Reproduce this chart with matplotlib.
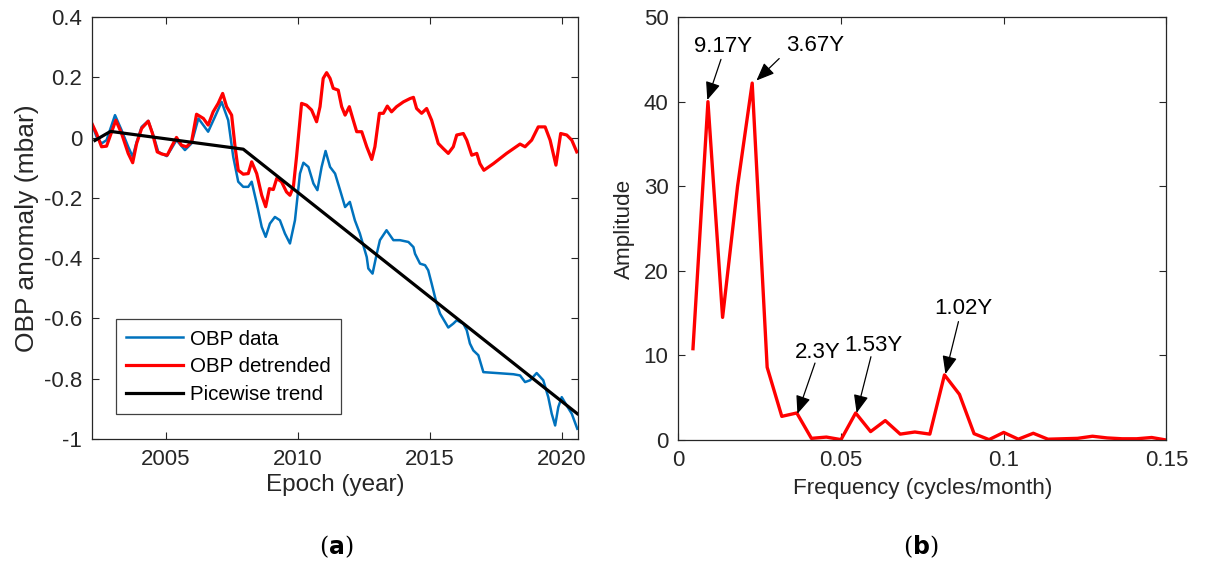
import numpy as np
import matplotlib
matplotlib.use('Agg')
import matplotlib.pyplot as plt

plt.rcParams['font.family'] = ['Liberation Sans', 'DejaVu Sans']
plt.rcParams['axes.unicode_minus'] = False

# panel (a): OBP time series (years, mbar)
yr_data = [2002.18, 2002.37, 2002.56, 2002.75, 2003.07, 2003.32, 2003.57, 2003.74, 2003.89, 2004.08,
           2004.33, 2004.52, 2004.71, 2005.03, 2005.21, 2005.40, 2005.72, 2005.97, 2006.23, 2006.60,
           2006.86, 2007.11, 2007.36, 2007.55, 2007.74, 2007.93, 2008.12, 2008.25, 2008.44, 2008.63,
           2008.78, 2008.94, 2009.13, 2009.32, 2009.51, 2009.70, 2009.89, 2010.08, 2010.21, 2010.40,
           2010.59, 2010.74, 2010.90, 2011.05, 2011.22, 2011.41, 2011.60, 2011.79, 2011.97, 2012.16,
           2012.35, 2012.61, 2012.67, 2012.83, 2012.99, 2013.11, 2013.36, 2013.62, 2013.87, 2014.19,
           2014.38, 2014.44, 2014.63, 2014.82, 2014.94, 2015.07, 2015.26, 2015.39, 2015.58, 2015.70,
           2015.89, 2016.02, 2016.27, 2016.40, 2016.52, 2016.65, 2016.84, 2017.03, 2017.53, 2018.17,
           2018.42, 2018.61, 2018.80, 2019.05, 2019.30, 2019.49, 2019.62, 2019.75, 2019.87, 2020.00,
           2020.19, 2020.38, 2020.59]
obp_data = [0.050, 0.003, -0.019, -0.008, 0.075, 0.025, -0.030, -0.063, -0.014, 0.036,
            0.056, 0.009, -0.047, -0.061, -0.036, -0.008, -0.041, -0.019, 0.064, 0.020,
            0.070, 0.119, 0.058, -0.063, -0.146, -0.163, -0.163, -0.146, -0.218, -0.296,
            -0.329, -0.285, -0.263, -0.274, -0.318, -0.351, -0.274, -0.119, -0.083, -0.097,
            -0.152, -0.174, -0.097, -0.044, -0.097, -0.119, -0.174, -0.230, -0.213, -0.274,
            -0.318, -0.396, -0.434, -0.451, -0.385, -0.340, -0.307, -0.340, -0.340, -0.346,
            -0.363, -0.385, -0.418, -0.423, -0.440, -0.484, -0.551, -0.584, -0.612, -0.630,
            -0.617, -0.606, -0.617, -0.639, -0.683, -0.706, -0.722, -0.778, -0.781, -0.785,
            -0.789, -0.811, -0.805, -0.781, -0.805, -0.861, -0.916, -0.955, -0.894, -0.861,
            -0.889, -0.916, -0.966]

yr_detr = [2002.18, 2002.37, 2002.56, 2002.75, 2003.10, 2003.32, 2003.57, 2003.74, 2003.89, 2004.08,
           2004.33, 2004.49, 2004.67, 2004.84, 2005.05, 2005.21, 2005.40, 2005.59, 2005.78, 2005.97,
           2006.16, 2006.42, 2006.60, 2006.79, 2006.98, 2007.15, 2007.30, 2007.49, 2007.62, 2007.74,
           2007.93, 2008.12, 2008.25, 2008.44, 2008.63, 2008.78, 2008.92, 2009.07, 2009.20, 2009.38,
           2009.57, 2009.70, 2009.83, 2009.95, 2010.14, 2010.33, 2010.52, 2010.71, 2010.84, 2010.96,
           2011.09, 2011.22, 2011.34, 2011.53, 2011.66, 2011.79, 2011.95, 2012.10, 2012.23, 2012.42,
           2012.61, 2012.80, 2012.92, 2013.09, 2013.24, 2013.39, 2013.55, 2013.74, 2014.00, 2014.25,
           2014.38, 2014.50, 2014.69, 2014.88, 2015.07, 2015.32, 2015.51, 2015.70, 2015.89, 2016.02,
           2016.27, 2016.40, 2016.59, 2016.78, 2016.90, 2017.05, 2017.41, 2017.91, 2018.42, 2018.61,
           2018.86, 2019.11, 2019.37, 2019.56, 2019.78, 2019.96, 2020.19, 2020.38, 2020.57]
obp_detr = [0.050, 0.014, -0.030, -0.028, 0.058, 0.014, -0.052, -0.083, -0.019, 0.031,
            0.055, 0.014, -0.047, -0.054, -0.058, -0.030, 0.001, -0.025, -0.030, -0.014,
            0.078, 0.064, 0.042, 0.086, 0.114, 0.147, 0.103, 0.075, -0.030, -0.108,
            -0.121, -0.119, -0.080, -0.119, -0.191, -0.229, -0.169, -0.172, -0.135, -0.146,
            -0.180, -0.191, -0.163, -0.063, 0.114, 0.108, 0.092, 0.053, 0.103, 0.197,
            0.216, 0.197, 0.164, 0.158, 0.103, 0.075, 0.103, 0.058, 0.020, 0.020,
            -0.030, -0.072, -0.030, 0.081, 0.081, 0.105, 0.086, 0.103, 0.119, 0.130,
            0.134, 0.097, 0.081, 0.097, 0.058, -0.019, -0.036, -0.052, -0.030, 0.009,
            0.014, -0.008, -0.058, -0.052, -0.086, -0.108, -0.086, -0.052, -0.021, -0.030,
            -0.008, 0.036, 0.036, -0.008, -0.091, 0.014, 0.009, -0.008, -0.047]

yr_trend = [2002.31, 2002.90, 2007.93, 2020.59]
obp_trend = [-0.009, 0.021, -0.038, -0.916]

# panel (b): amplitude spectrum
freq = [0.0045, 0.0091, 0.0136, 0.0182, 0.0227, 0.0273, 0.0318, 0.0364, 0.0409, 0.0455,
        0.0500, 0.0545, 0.0591, 0.0636, 0.0682, 0.0727, 0.0773, 0.0818, 0.0864, 0.0909,
        0.0955, 0.1000, 0.1045, 0.1091, 0.1136, 0.1182, 0.1227, 0.1273, 0.1318, 0.1364,
        0.1409, 0.1455, 0.1500]
amp = [10.8, 40.0, 14.5, 30.0, 42.2, 8.6, 2.8, 3.2, 0.2, 0.35,
       0.05, 3.2, 1.0, 2.3, 0.7, 0.95, 0.7, 7.7, 5.4, 0.75,
       0.05, 0.9, 0.1, 0.8, 0.1, 0.15, 0.2, 0.45, 0.25, 0.15,
       0.15, 0.3, 0.0]

# annotations: label, text pos, arrow tail, arrow tip
peak_labels = ['9.17Y', '3.67Y', '2.3Y', '1.53Y', '1.02Y']
label_pos = [(0.0137, 46.5), (0.042, 46.6), (0.0429, 10.4), (0.060, 11.2), (0.0877, 15.5)]
arrow_tail = [(0.0131, 45.0), (0.031, 45.1), (0.042, 9.1), (0.0592, 9.85), (0.0861, 14.0)]
arrow_tip = [(0.0089, 40.2), (0.0240, 42.5), (0.0366, 3.1), (0.0548, 3.2), (0.0821, 7.8)]

axcol = '#262626'
fig = plt.figure(figsize=(12.24, 5.70), dpi=100)
ax1 = fig.add_axes([0.0752, 0.2298, 0.3971, 0.7400])
ax2 = fig.add_axes([0.5542, 0.2280, 0.3987, 0.7420])

ax1.plot(yr_data, obp_data, color='#0072BD', lw=1.8, label='OBP data')
ax1.plot(yr_detr, obp_detr, color='red', lw=2.3, label='OBP detrended')
ax1.plot(yr_trend, obp_trend, color='black', lw=2.3, label='Picewise trend')
ax1.set_xlim(2002.2, 2020.62)
ax1.set_ylim(-1, 0.4)
ax1.set_xticks([2005, 2010, 2015, 2020])
ax1.set_yticks([-1, -0.8, -0.6, -0.4, -0.2, 0, 0.2, 0.4])
ax1.set_yticklabels(['-1', '-0.8', '-0.6', '-0.4', '-0.2', '0', '0.2', '0.4'])
ax1.set_xlabel('Epoch (year)', fontsize=17.5, color=axcol, labelpad=3)
ax1.set_ylabel('OBP anomaly (mbar)', fontsize=19, color=axcol, labelpad=4)
leg = ax1.legend(loc='lower left', bbox_to_anchor=(0.049, 0.059), fontsize=14.8,
                 fancybox=False, framealpha=1, edgecolor='#404040', handlelength=2.75,
                 handletextpad=0.37, borderpad=0.5, borderaxespad=0, labelspacing=0.42)
leg.get_frame().set_linewidth(0.9)

ax2.plot(freq, amp, color='red', lw=2.4)
ax2.set_xlim(0, 0.15)
ax2.set_ylim(0, 50)
ax2.set_xticks([0, 0.05, 0.1, 0.15])
ax2.set_xticklabels(['0', '0.05', '0.1', '0.15'])
ax2.set_yticks([0, 10, 20, 30, 40, 50])
ax2.set_xlabel('Frequency (cycles/month)', fontsize=16.2, color=axcol, labelpad=5)
ax2.set_ylabel('Amplitude', fontsize=16.2, color=axcol, labelpad=6)

for lab, tp, tl, tip in zip(peak_labels, label_pos, arrow_tail, arrow_tip):
    ax2.text(tp[0], tp[1], lab, fontsize=16, ha='center', va='center', color='black')
    ax2.annotate('', xy=tip, xytext=tl,
                 arrowprops=dict(arrowstyle='-|>,head_length=1.1,head_width=0.45',
                                 color='black', lw=0.9, shrinkA=0, shrinkB=0))

for ax in (ax1, ax2):
    ax.tick_params(direction='in', top=True, right=True, labelsize=16,
                   colors=axcol, length=5, width=0.8, pad=7)
    for s in ax.spines.values():
        s.set_color(axcol)
        s.set_linewidth(0.9)

fig.text(0.275, 0.027, r'($\mathbf{a}$)', fontsize=17, ha='center', family='DejaVu Serif')
fig.text(0.752, 0.027, r'($\mathbf{b}$)', fontsize=17, ha='center', family='DejaVu Serif')

fig.savefig('out.png', dpi=100)
